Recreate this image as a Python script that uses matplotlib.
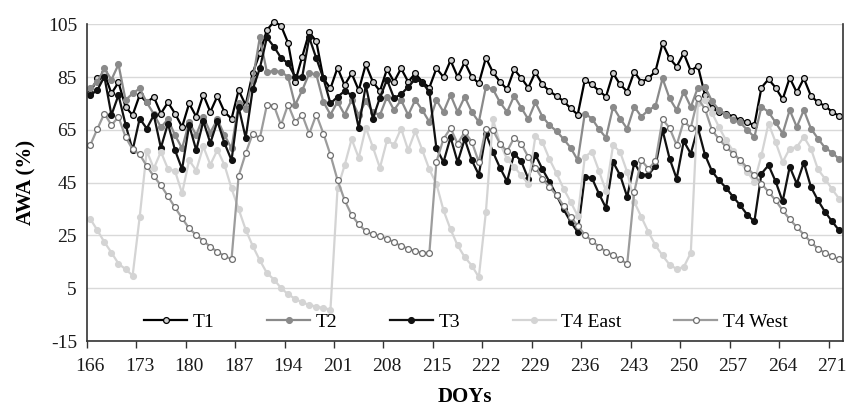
import numpy as np
import matplotlib
matplotlib.use("Agg")
import matplotlib.pyplot as plt

plt.rcParams['font.family'] = ['Liberation Serif', 'DejaVu Serif']
plt.rcParams['axes.unicode_minus'] = False

doy = list(range(166, 273))

t1 = [79, 84.5, 86.4, 78.8, 83, 73.7, 70.6, 78.2, 75.4, 77.5,
      71.2, 75.4, 71.2, 66.1, 75, 70, 78.3, 71.8, 77.8, 71.8,
      69.2, 80, 74.4, 86.6, 94, 102.8, 106, 104.5, 98, 83.2,
      92.7, 102, 98.5, 84.5, 80.7, 88.5, 82, 86.4, 80, 89.8,
      83.2, 79.7, 88, 83.2, 88.3, 83.2, 86.4, 83.2, 81, 88.3,
      85, 91.3, 85.1, 90.6, 85.1, 82.6, 92.3, 86.8, 83.2, 80.4,
      87.9, 84.7, 81, 86.8, 82.2, 79.7, 77.8, 75.9, 73.1, 70.8,
      83.9, 82.2, 79.8, 77.6, 86.4, 82.2, 79.5, 87, 83.2, 84.5,
      87.2, 97.8, 92.1, 89, 94, 87.3, 89.3, 78.2, 73.1, 71.8,
      71.2, 70, 68.7, 67.8, 66.8, 81, 84.2, 81, 76.6, 84.7,
      79.2, 84.5, 77.9, 75.4, 74.1, 71.8, 70.3]

t2 = [81, 83, 88.3, 84, 89.8, 76.3, 78.8, 80.7, 75.4, 71,
      66, 69, 63, 58, 68, 63, 70, 64, 69, 63,
      58, 75, 73, 84, 100, 87, 87.3, 87, 85.1, 74.4,
      80, 86.4, 86, 75.6, 70.8, 75.6, 70.8, 76.3, 70.6, 75.9,
      71.8, 70.6, 77.5, 72.5, 76.3, 70.6, 76.3, 72.5, 68, 76.3,
      71.8, 78.2, 71.8, 77.5, 71.8, 68, 81.3, 80.4, 75.4, 71.8,
      77.9, 73.4, 69, 75.4, 70, 66.8, 64.5, 61.5, 58.2, 53.5,
      71.2, 69.3, 65.3, 62, 73.7, 69.3, 65.4, 73.8, 70, 72.5,
      74, 84.5, 76.9, 72.5, 79.4, 73.7, 81, 81.3, 75.9, 72.5,
      70.8, 68.7, 67.8, 64.9, 62.3, 73.7, 71.8, 67.8, 63.6, 72.5,
      66.1, 72.5, 65.5, 61.7, 58.2, 56.4, 53.9]

t3 = [78.2, 80, 85.2, 70.6, 78.2, 67, 57.3, 69.3, 65.5, 70.6,
      58.2, 67.4, 57.3, 50.1, 66.8, 57.3, 68.3, 60, 68.3, 60,
      53.5, 73.7, 62, 80.4, 88.3, 100, 96.5, 92.3, 90.2, 85.1,
      85.1, 100, 92.1, 84.5, 75, 77.5, 79.7, 78.2, 65.8, 81.9,
      69.3, 77.2, 84, 77, 78.5, 81.3, 84.2, 82.9, 79.4, 58,
      52.8, 62.2, 52.8, 61.5, 53.5, 48, 63.6, 56.6, 50.6, 45.5,
      56, 53.1, 46.5, 55.6, 50.1, 45.3, 40.2, 34.9, 30.1, 26.3,
      47.2, 46.8, 40.8, 35.4, 52.8, 47.8, 39.6, 52.5, 48, 48,
      51.3, 64.9, 54.1, 46.5, 60.7, 56, 65.8, 55.6, 49.3, 45.9,
      43, 39.6, 36.4, 32.8, 30.3, 48.4, 51.6, 45.5, 37.9, 51,
      44.6, 52.6, 43.4, 38.3, 33.9, 30.3, 26.9]

t4_east = [31.3, 27, 22.5, 18.5, 14.3, 12.2, 9.8, 32, 57, 50.4,
           56.7, 50.2, 49.4, 41, 53.5, 49.6, 58.7, 51.8, 57.4, 51.7,
           42.8, 35, 27.2, 21, 15.6, 10.8, 8.3, 5.1, 2.7, 1,
           -0.4, -1.3, -2, -2.5, -3.1, 42.8, 51.5, 61.5, 54.4, 65.8,
           58.5, 50.6, 61, 59.4, 65.5, 57.3, 64.5, 57.3, 50, 44.5,
           34.5, 27.3, 21.2, 16.8, 13.6, 9.2, 33.9, 69, 59.8, 53.9,
           51, 47.8, 44.6, 62.5, 60.4, 53.9, 48.5, 42.7, 37.7, 32.4,
           54.7, 56.8, 49.5, 41.8, 59.2, 56.6, 49, 37.7, 32, 26.3,
           21.2, 17.4, 13.9, 12.3, 13, 18.4, 75, 76.5, 71.5, 66,
           61, 57, 53, 49, 45.3, 55.4, 67.4, 60.4, 52.8, 57.9,
           58.5, 62.3, 57.9, 50, 46.5, 42.5, 38.9]

t4_west = [59.2, 65.3, 71.2, 66.8, 69.9, 62.3, 57.6, 55.7, 51.3, 47.4,
           44, 39.8, 35.6, 31.5, 27.7, 25.1, 23, 20.7, 18.8, 17.2,
           16, 47.5, 56.1, 63.6, 61.8, 74.4, 74.2, 66.8, 74.6, 68,
           70.7, 63.5, 70.8, 63.6, 55.5, 46, 38.4, 32.7, 29.2, 26.6,
           25.4, 24.8, 23.8, 22.4, 21, 20, 19, 18.4, 18.4, 52.9,
           61.6, 65.6, 59.8, 64.2, 60.5, 52.8, 65.5, 64.9, 59.8, 56.9,
           62, 59.8, 54.7, 50.6, 46.5, 43.4, 40.2, 36.2, 32, 28.6,
           25.3, 22.9, 20.8, 18.9, 17.5, 16, 14.2, 41.5, 53.5, 50.3,
           53.1, 69, 65.7, 59.2, 68.3, 65.8, 76.9, 73, 64.9, 61.5,
           58.5, 56, 53.5, 50.6, 47.8, 44.6, 41.5, 38.3, 34.5, 31.1,
           28.2, 25.3, 22.5, 19.9, 18.4, 17.2, 15.9]

series_names = ['T1', 'T2', 'T3', 'T4 East', 'T4 West']
x_labels = list(range(166, 272, 7))
y_ticks = list(range(-15, 106, 20))

fig = plt.figure(figsize=(8.48, 4.08), dpi=100)
ax = fig.add_axes([86.7 / 848, 1 - 341 / 408, (842.7 - 86.7) / 848, (341 - 24.3) / 408])

styles = [
    dict(color='#000000', marker='o', mfc='#d0d0d0', mec='#000000'),
    dict(color='#8a8a8a', marker='o', mfc='#8a8a8a', mec='#8a8a8a'),
    dict(color='#111111', marker='o', mfc='#111111', mec='#111111'),
    dict(color='#d4d4d4', marker='o', mfc='#d4d4d4', mec='#d4d4d4'),
    dict(color='#9c9c9c', marker='o', mfc='#ffffff', mec='#6e6e6e'),
]
data = [t1, t2, t3, t4_east, t4_west]
for name, vals, st in zip(series_names, data, styles):
    ax.plot(doy, vals, label=name, lw=1.6, ms=4.2, mew=0.9, clip_on=False, **st)

ax.set_xlim(165.5, 272.5)
ax.set_ylim(-15, 105)
ax.set_yticks(y_ticks)
ax.yaxis.grid(True, color='#d9d9d9', lw=1.0)
ax.set_axisbelow(True)
ax.tick_params(axis='y', length=0, pad=7, labelsize=14, labelcolor='#1a1a1a')

ax.set_xticks(x_labels)
ax.set_xticklabels([str(v) for v in x_labels])
ax.set_xticks(np.arange(165.5, 272, 7), minor=True)
ax.tick_params(axis='x', which='major', length=0, pad=12, labelsize=14, labelcolor='#1a1a1a')
ax.tick_params(axis='x', which='minor', length=5, width=1, color='#333333', direction='out')

ax.spines['top'].set_visible(False)
for s in ['left', 'bottom', 'right']:
    ax.spines[s].set_color('#333333')
    ax.spines[s].set_linewidth(1.2)

ax.set_ylabel('AWA (%)', fontsize=15, fontweight='bold', labelpad=8)
ax.set_xlabel('DOYs', fontsize=15, fontweight='bold', labelpad=9)

fig.legend(loc='center', bbox_to_anchor=(466 / 848, 1 - 322 / 408), ncol=5,
           frameon=False, fontsize=14, handlelength=2.2, handletextpad=0.3,
           columnspacing=2.7)

fig.savefig('out.png', dpi=100)
